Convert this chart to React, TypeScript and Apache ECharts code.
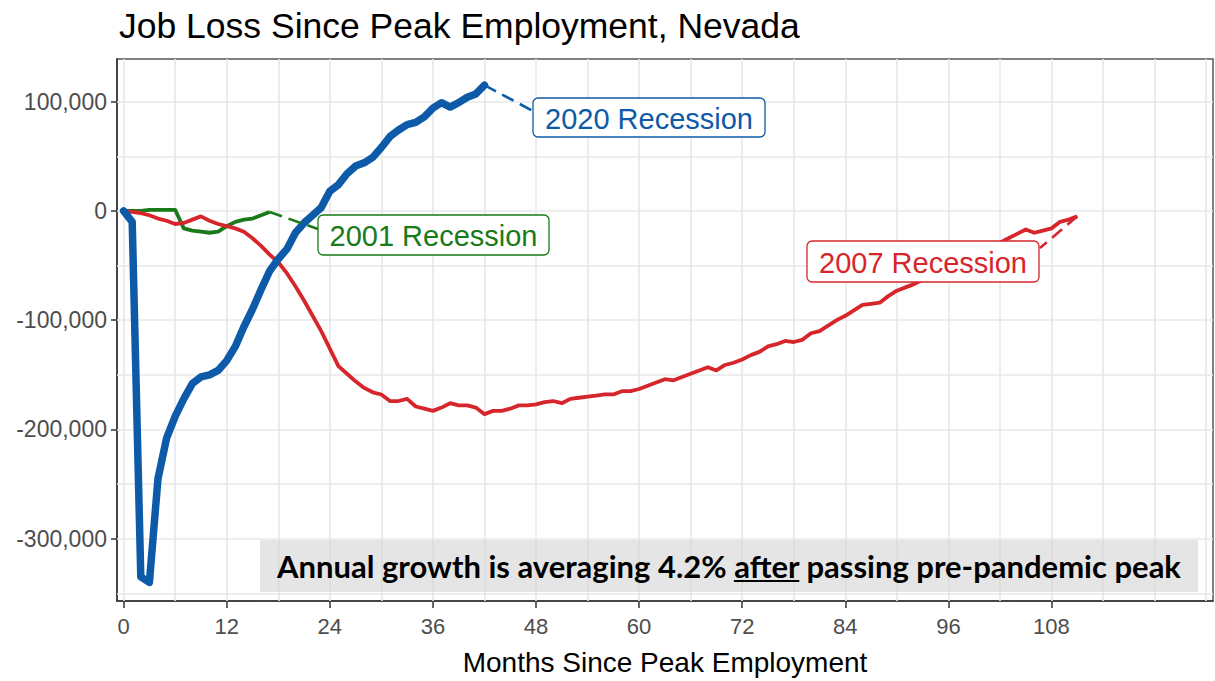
import React, { useEffect, useRef } from "react";
import * as echarts from "echarts";

const TITLE = "Job Loss Since Peak Employment, Nevada";
const X_NAME = "Months Since Peak Employment";
const X_TICKS = [0, 12, 24, 36, 48, 60, 72, 84, 96, 108];
const Y_TICKS = [-300000, -200000, -100000, 0, 100000];
const X_GRID = [0, 6, 12, 18, 24, 30, 36, 42, 48, 54, 60, 66, 72, 78, 84, 90, 96, 102, 108, 114, 120, 126];
const Y_GRID = [-350000, -300000, -250000, -200000, -150000, -100000, -50000, 0, 50000, 100000];

const SERIES_NAMES = ["2001 Recession", "2007 Recession", "2020 Recession"];
const SERIES_COLORS = ["#197a19", "#d7262b", "#0d5ba8"];

const jobs2001 = [
  0, 0, 0, 1000, 1000, 1000, 1000, -16000, -18000, -19000, -20000, -19000, -14000, -10000, -8000, -7000, -4000, -1000,
];

const jobs2007 = [
  0, -1000, -2000, -4000, -7000, -9000, -12000, -11000, -8000, -5000, -9000, -12000, -14000, -16000, -19000, -25000,
  -32000, -40000, -47000, -57000, -69000, -82000, -96000, -110000, -126000, -142000, -149000, -156000, -162000, -166000,
  -168000, -174000, -174000, -172000, -179000, -181000, -183000, -180000, -176000, -178000, -178000, -180000, -186000,
  -183000, -183000, -181000, -178000, -178000, -177000, -175000, -174000, -176000, -172000, -171000, -170000, -169000,
  -168000, -168000, -165000, -165000, -163000, -160000, -157000, -154000, -155000, -152000, -149000, -146000, -143000,
  -146000, -141000, -139000, -136000, -132000, -129000, -124000, -122000, -119000, -120000, -118000, -112000, -110000,
  -105000, -100000, -96000, -91000, -86000, -85000, -84000, -78000, -73000, -70000, -67000, -63000, -59000, -55000,
  -51000, -47000, -43000, -39000, -35000, -31000, -29000, -25000, -21000, -17000, -20000, -18000, -16000, -10000,
  -8000, -5000,
];

const jobs2020 = [
  0, -10000, -335000, -340000, -245000, -208000, -188000, -172000, -158000, -152000, -150000, -146000, -137000,
  -124000, -106000, -90000, -72000, -55000, -44000, -35000, -20000, -11000, -4000, 3000, 18000, 24000, 34000, 41000,
  44000, 49000, 58000, 68000, 74000, 79000, 81000, 86000, 94000, 99000, 95000, 99000, 104000, 107000, 115000,
];

const NOTE_PARTS = ["Annual growth is averaging 4.2% ", "after", " passing pre-pandemic peak"];

const FONT = "'Liberation Sans', Arial, sans-serif";
const NOTE_FONT = "Lato, 'Open Sans', sans-serif";

const toPairs = (arr: number[]) => arr.map((v, i) => [i, v]);

export default function App() {
  const ref = useRef<HTMLDivElement>(null);

  useEffect(() => {
    if (!ref.current) return;
    const chart = echarts.init(ref.current, undefined, { renderer: "svg" });

    const option: any = {
      animation: false,
      backgroundColor: "#ffffff",
      title: {
        text: TITLE,
        left: 114,
        top: 3,
        textStyle: { fontFamily: FONT, fontSize: 35.5, fontWeight: "normal", color: "#000000" },
      },
      grid: {
        left: 117,
        top: 59,
        width: 1096,
        height: 551,
        show: true,
        borderColor: "#555555",
        borderWidth: 1.5,
        backgroundColor: "transparent",
      },
      xAxis: {
        type: "value",
        min: -0.77,
        max: 126.8,
        name: X_NAME,
        nameLocation: "middle",
        nameGap: 47,
        nameTextStyle: { fontFamily: FONT, fontSize: 28, color: "#000000" },
        axisLine: { show: true, onZero: false, lineStyle: { color: "#333333", width: 1.5 } },
        axisTick: { show: true, customValues: X_TICKS, length: 7, lineStyle: { color: "#333333", width: 1.5 } },
        axisLabel: { customValues: X_TICKS, color: "#4d4d4d", fontSize: 22, margin: 14, fontFamily: FONT },
        splitLine: { show: false },
        minorSplitLine: { show: false },
      },
      yAxis: {
        type: "value",
        min: -357000,
        max: 139000,
        axisLine: { show: true, onZero: false, lineStyle: { color: "#333333", width: 1.5 } },
        axisTick: { show: true, customValues: Y_TICKS, length: 6, lineStyle: { color: "#333333", width: 1.5 } },
        axisLabel: {
          customValues: Y_TICKS,
          color: "#4d4d4d",
          fontSize: 23,
          margin: 10,
          fontFamily: FONT,
          formatter: (v: number) => Math.round(v).toLocaleString("en-US"),
        },
        splitLine: { show: false },
        minorSplitLine: { show: false },
      },
      series: [
        {
          name: SERIES_NAMES[0],
          type: "line",
          data: toPairs(jobs2001),
          showSymbol: false,
          symbol: "none",
          z: 10,
          lineStyle: { color: SERIES_COLORS[0], width: 3.8, join: "round" },
          markLine: {
            silent: true,
            z: 1,
            symbol: "none",
            label: { show: false },
            lineStyle: { color: "#e9e9e9", width: 1.7, type: "solid" },
            data: [...X_GRID.map((v) => ({ xAxis: v })), ...Y_GRID.map((v) => ({ yAxis: v }))],
          },
        },
        {
          name: SERIES_NAMES[1],
          type: "line",
          data: toPairs(jobs2007),
          showSymbol: false,
          symbol: "none",
          z: 11,
          lineStyle: { color: SERIES_COLORS[1], width: 3.8, join: "round" },
        },
        {
          name: SERIES_NAMES[2],
          type: "line",
          data: toPairs(jobs2020),
          showSymbol: false,
          symbol: "none",
          z: 12,
          lineStyle: { color: SERIES_COLORS[2], width: 7.5, join: "round", cap: "round" },
        },
      ],
    };

    chart.setOption(option);

    const ends = [jobs2001, jobs2007, jobs2020].map((arr) =>
      chart.convertToPixel({ gridIndex: 0 }, [arr.length - 1, arr[arr.length - 1]]) as number[]
    );

    const labelBoxes = [
      { x: 318, y: 215, w: 231, h: 40, lx: 318, ly: 229 },
      { x: 807, y: 241, w: 232, h: 41, lx: 1040, ly: 248 },
      { x: 533, y: 98, w: 232, h: 39, lx: 533, ly: 111 },
    ];

    const graphics: any[] = [];
    labelBoxes.forEach((b, i) => {
      const p = ends[i];
      graphics.push({
        type: "line",
        z: 100,
        silent: true,
        shape: { x1: p[0], y1: p[1], x2: b.lx, y2: b.ly },
        style: { stroke: SERIES_COLORS[i], lineWidth: 2.6, lineDash: [13, 7] },
      });
      graphics.push({
        type: "rect",
        z: 101,
        silent: true,
        shape: { x: b.x, y: b.y, width: b.w, height: b.h, r: 5 },
        style: { fill: "#ffffff", stroke: SERIES_COLORS[i], lineWidth: 1.3 },
      });
      graphics.push({
        type: "text",
        z: 102,
        silent: true,
        x: b.x + b.w / 2,
        y: b.y + b.h / 2 + 1,
        style: {
          text: SERIES_NAMES[i],
          fill: SERIES_COLORS[i],
          font: `29px ${FONT}`,
          align: "center",
          verticalAlign: "middle",
        },
      });
    });

    // annotation box
    const noteSize = 31;
    const noteFont = `bold ${noteSize}px ${NOTE_FONT}`;
    const ctx = document.createElement("canvas").getContext("2d") as CanvasRenderingContext2D;
    ctx.font = noteFont;
    const full = NOTE_PARTS.join("");
    const W = ctx.measureText(full).width;
    const P = ctx.measureText(NOTE_PARTS[0]).width;
    const A = ctx.measureText(NOTE_PARTS[1]).width;
    const rect = { x: 260, y: 540, w: 938, h: 52 };
    const cx = rect.x + rect.w / 2;
    const cy = rect.y + rect.h / 2;
    const startX = cx - W / 2;
    graphics.push({
      type: "rect",
      z: 90,
      silent: true,
      shape: { x: rect.x, y: rect.y, width: rect.w, height: rect.h },
      style: { fill: "rgba(212,212,212,0.6)" },
    });
    graphics.push({
      type: "text",
      z: 91,
      silent: true,
      x: cx,
      y: cy,
      style: { text: full, fill: "#000000", font: noteFont, align: "center", verticalAlign: "middle" },
    });
    graphics.push({
      type: "line",
      z: 91,
      silent: true,
      shape: { x1: startX + P, y1: cy + 15, x2: startX + P + A, y2: cy + 15 },
      style: { stroke: "#000000", lineWidth: 2 },
    });

    chart.setOption({ graphic: graphics });

    return () => chart.dispose();
  }, []);

  return (
    <div
      ref={ref}
      style={{ position: "fixed", left: 0, top: 0, width: 1215, height: 681, background: "#ffffff" }}
    />
  );
}
